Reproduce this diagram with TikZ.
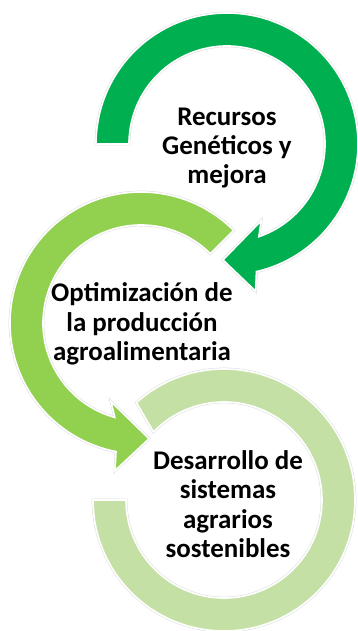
\documentclass[tikz,border=0pt]{standalone}
\usepackage{fontspec}
\setmainfont{Carlito}
\usetikzlibrary{calc}
\definecolor{verdeA}{RGB}{0,176,80}
\definecolor{verdeB}{RGB}{146,208,80}
\definecolor{verdeC}{RGB}{197,224,165}
\tikzset{
  ring/.style={draw=white, line width=1.4pt, line join=miter,
               preaction={draw=black!13, line width=2.3pt}},
  ringA/.style={ring, fill=verdeA},
  ringB/.style={ring, fill=verdeB},
  ringC/.style={ring, fill=verdeC},
  ringtext/.style={align=center, inner sep=0pt, text=black,
                   font=\bfseries\fontsize{23}{25}\selectfont},
}
\begin{document}
\begin{tikzpicture}[x=0.03cm, y=0.03cm]
  \useasboundingbox (0,0) rectangle (358,631);

  \coordinate (c1) at (227,487);
  \coordinate (c2) at (141,308);
  \coordinate (c3) at (224,131);

  % ring 3, no head
  \filldraw[ringC, shift={(c3)}] (132:131) arc[start angle=132, end angle=-180, radius=131]
    -- (180:98) arc[start angle=-180, end angle=136, radius=98] -- cycle;
  % ring 2, turning left
  \filldraw[ringB, shift={(c2)}] (45:131) arc[start angle=45, end angle=259, radius=131]
    -- (260:150) -- (274:116) -- (249:84) -- (254.5:98)
    arc[start angle=254.5, end angle=45, radius=98] -- cycle;
  % ring 1, turning right
  \filldraw[ringA, shift={(c1)}] (180:131) arc[start angle=180, end angle=-77, radius=131]
    -- (-79:150) -- (-92:116) -- (-66:84) -- (-71:98)
    arc[start angle=-71, end angle=180, radius=98] -- cycle;

  \node[ringtext] (recursos)     at ($(c1)+(0,-4)$) {Recursos\\Genéticos y\\mejora};
  \node[ringtext] (optimizacion) at ($(c2)+(1,-1)$) {Optimización de\\la producción\\agroalimentaria};
  \node[ringtext] (desarrollo)   at ($(c3)+(4,-4)$) {Desarrollo de\\sistemas\\agrarios\\sostenibles};
\end{tikzpicture}
\end{document}
